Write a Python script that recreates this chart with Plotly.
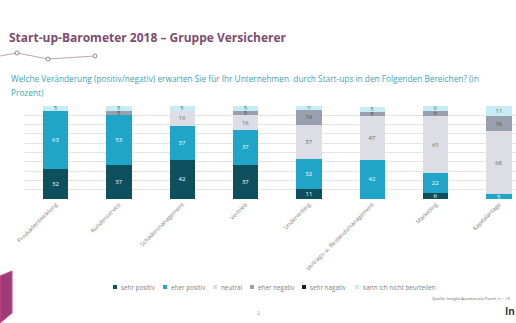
import plotly.graph_objects as go

categories = ["Produktentwicklung", "Kundenservice", "Schadenmanagement", "Vertrieb",
              "Underwriting", "Vertrags- u. Bestandsmanagement", "Marketing", "Kapitalanlage"]
series_names = ["sehr positiv", "eher positiv", "neutral", "eher negativ", "sehr nagativ",
                "kann ich nicht beurteilen"]
sehr_positiv = [32, 37, 42, 37, 11, 0, 6, 0]
eher_positiv = [63, 53, 37, 37, 32, 42, 22, 5]
neutral = [0, 0, 16, 16, 37, 47, 61, 68]
eher_negativ = [0, 5, 0, 5, 16, 5, 6, 16]
sehr_negativ = [0, 0, 0, 0, 0, 0, 0, 0]
kann_nicht = [5, 5, 5, 5, 5, 5, 6, 11]

values = [sehr_positiv, eher_positiv, neutral, eher_negativ, sehr_negativ, kann_nicht]
colors = ["#0e4f5e", "#1ea5c8", "#dcdde5", "#9a9fae", "#1a1a1a", "#c6edf5"]
text_colors = ["#ffffff", "#ffffff", "#6a6a6a", "#4a4a4a", "#ffffff", "#6a6a6a"]
legend_x = [113, 163, 213, 250, 302, 355]

W, H = 516, 323
L, R, T, B = 24, 0, 106, 124
PW, PH = W - L - R, H - T - B


def px(x):
    return (x - L) / PW


def py(y):
    return (H - B - y) / PH


font = "Open Sans"
fig = go.Figure()
for name, vals, c, tc in zip(series_names, values, colors, text_colors):
    fig.add_trace(go.Bar(
        x=list(range(len(categories))), y=vals, name=name,
        marker=dict(color=c, line=dict(width=0)),
        text=[str(v) if v > 0 else "" for v in vals],
        textposition="inside", insidetextanchor="middle", textangle=0,
        textfont=dict(size=6, color=tc, family=font),
        hoverinfo="skip", showlegend=False,
    ))

fig.update_layout(
    barmode="stack", bargap=0.6,
    width=W, height=H,
    margin=dict(l=L, r=R, t=T, b=B, pad=0),
    paper_bgcolor="white", plot_bgcolor="white",
    uniformtext=dict(minsize=6, mode="show"),
    font=dict(family=font, color="#7f7f7f"),
    xaxis=dict(range=[-0.5, 7.27], tickmode="array", tickvals=list(range(len(categories))),
               ticktext=categories, tickangle=-45, tickfont=dict(size=5.8, color="#7f7f7f"),
               showgrid=False, zeroline=False, showline=False, ticks=""),
    yaxis=dict(range=[0, 100], dtick=10, showticklabels=False, showgrid=True,
               gridcolor="#e4e4e4", gridwidth=1, zeroline=False, showline=False),
    showlegend=False,
)

annotations = [
    dict(text="<b>Start-up-Barometer 2018 – Gruppe Versicherer</b>", x=px(7), y=py(37),
         xanchor="left", yanchor="middle", font=dict(size=12, color="#7d4b6f", family=font)),
    dict(text="Welche Veränderung (positiv/negativ) erwarten Sie für Ihr Unternehmen  durch Start-ups in den Folgenden Bereichen? (in",
         x=px(9), y=py(78), xanchor="left", yanchor="middle",
         font=dict(size=8.3, color="#3ea3bb", family=font)),
    dict(text="Prozent)", x=px(9), y=py(93), xanchor="left", yanchor="middle",
         font=dict(size=8.3, color="#3ea3bb", family=font)),
    dict(text="Quelle: Insight-Assekuranz-Panel, n = 19", x=px(513), y=py(298),
         xanchor="right", yanchor="middle", font=dict(size=4.2, color="#6a6a6a", family=font)),
    dict(text="2", x=px(258), y=py(313), xanchor="center", yanchor="middle",
         font=dict(size=5, color="#9a9a9a", family=font)),
    dict(text="<b>In</b>", x=px(503), y=py(311), xanchor="left", yanchor="middle",
         font=dict(size=10, color="#3a3a3a", family=font)),
]
shapes = [
    dict(type="path", path=f"M {px(0)} {py(56)} L {px(17)} {py(53)} L {px(48)} {py(59)} L {px(95)} {py(56)}",
         line=dict(color="#b9a7b3", width=1)),
    dict(type="path", path=f"M {px(0)} {py(276)} L {px(12)} {py(271)} L {px(12)} {py(313)} L {px(0)} {py(323)} Z",
         fillcolor="#9c3d75", line=dict(color="#d8428f", width=1)),
]
for (cx, cy) in [(17, 53), (48, 59), (95, 56)]:
    shapes.append(dict(type="circle", x0=px(cx - 2), x1=px(cx + 2), y0=py(cy - 2), y1=py(cy + 2),
                       fillcolor="white", line=dict(color="#9a8390", width=1)))

# manual legend
for name, c, lx in zip(series_names, colors, legend_x):
    shapes.append(dict(type="rect", x0=px(lx), x1=px(lx + 4), y0=py(289), y1=py(285),
                       fillcolor=c, line=dict(width=0)))
    annotations.append(dict(text=name, x=px(lx + 6), y=py(287), xanchor="left", yanchor="middle",
                            font=dict(size=6.3, color="#7f7f7f", family=font)))

for a in annotations:
    a.update(xref="paper", yref="paper", showarrow=False)
for s in shapes:
    s.update(xref="paper", yref="paper", layer="above")
fig.update_layout(annotations=annotations, shapes=shapes)

fig.write_html("out.html")
